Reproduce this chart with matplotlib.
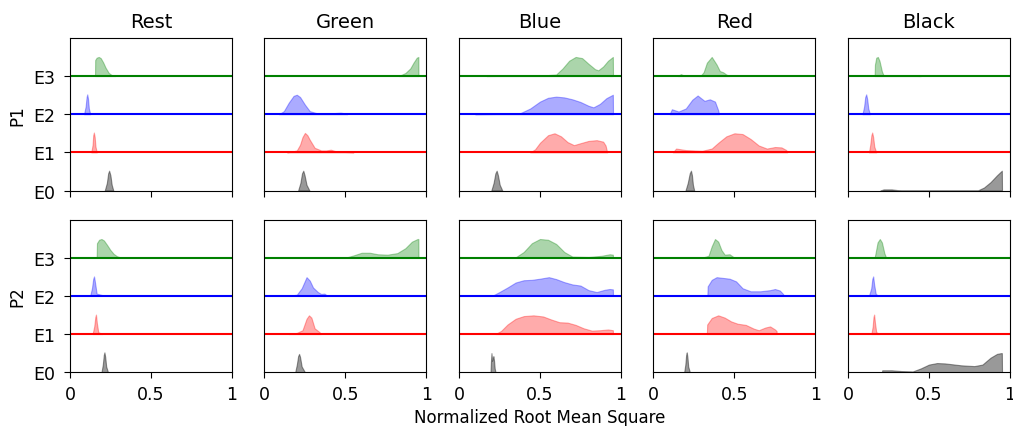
# Ridgelines de NRMS por condición (Rest/Green/Blue/Red/Black), participante y nivel E0-E3

import numpy as np
import matplotlib
matplotlib.use('Agg')
import matplotlib.pyplot as plt

condiciones = ['Rest', 'Green', 'Blue', 'Red', 'Black']
participantes = ['P1', 'P2']
niveles = ['E0', 'E1', 'E2', 'E3']

# perfil típico de un pico estrecho (alturas)
pico = [0, 0.2, 0.45, 0.52, 0.4, 0.15, 0]

# cada lista: [E0, E1, E2, E3], cada curva como (x, densidad)
rest_p1 = [
    ([0.215, 0.228, 0.236, 0.242, 0.25, 0.258, 0.268], pico),
    ([0.132, 0.14, 0.144, 0.148, 0.153, 0.158, 0.166], pico),
    ([0.087, 0.097, 0.103, 0.107, 0.112, 0.117, 0.126], pico),
    ([0.155, 0.156, 0.165, 0.178, 0.19, 0.205, 0.22, 0.24, 0.26, 0.28],
     [0, 0.42, 0.48, 0.5, 0.47, 0.36, 0.22, 0.08, 0.02, 0]),
]
green_p1 = [
    ([0.208, 0.222, 0.232, 0.24, 0.248, 0.26, 0.278], pico),
    ([0.14, 0.17, 0.2, 0.22, 0.235, 0.25, 0.265, 0.28, 0.31, 0.35, 0.38, 0.41, 0.44, 0.5, 0.55],
     [0, 0.02, 0.05, 0.2, 0.4, 0.51, 0.45, 0.33, 0.12, 0.05, 0.05, 0.07, 0.03, 0.01, 0]),
    ([0.09, 0.12, 0.15, 0.18, 0.2, 0.22, 0.25, 0.28, 0.32, 0.4, 0.47, 0.5, 0.51],
     [0, 0.08, 0.3, 0.48, 0.51, 0.45, 0.25, 0.08, 0.03, 0.02, 0.04, 0.02, 0]),
    ([0.83, 0.87, 0.9, 0.92, 0.94, 0.95, 0.951],
     [0, 0.08, 0.2, 0.35, 0.48, 0.5, 0]),
]
blue_p1 = [
    ([0.2, 0.214, 0.225, 0.233, 0.241, 0.252, 0.268], pico),
    ([0.44, 0.47, 0.5, 0.55, 0.59, 0.63, 0.67, 0.71, 0.75, 0.8, 0.85, 0.89, 0.905, 0.915],
     [0, 0.08, 0.25, 0.45, 0.5, 0.42, 0.27, 0.19, 0.24, 0.3, 0.32, 0.28, 0.18, 0]),
    ([0.1, 0.3, 0.38, 0.44, 0.5, 0.55, 0.6, 0.65, 0.7, 0.75, 0.8, 0.83, 0.87, 0.91, 0.95, 0.951],
     [0, 0.01, 0.03, 0.15, 0.33, 0.43, 0.46, 0.44, 0.39, 0.32, 0.22, 0.18, 0.27, 0.42, 0.51, 0]),
    ([0.17, 0.5, 0.6, 0.64, 0.68, 0.72, 0.76, 0.8, 0.84, 0.86, 0.89, 0.92, 0.95, 0.951],
     [0, 0.01, 0.04, 0.2, 0.4, 0.5, 0.47, 0.32, 0.18, 0.15, 0.25, 0.4, 0.5, 0]),
]
red_p1 = [
    ([0.198, 0.212, 0.224, 0.232, 0.238, 0.244, 0.252], pico),
    ([0.12, 0.14, 0.2, 0.3, 0.36, 0.4, 0.45, 0.5, 0.55, 0.6, 0.65, 0.7, 0.75, 0.79, 0.82, 0.825],
     [0, 0.1, 0.06, 0.04, 0.1, 0.25, 0.42, 0.5, 0.48, 0.35, 0.18, 0.1, 0.14, 0.13, 0.06, 0]),
    ([0.1, 0.114, 0.155, 0.2, 0.24, 0.273, 0.3, 0.315, 0.348, 0.38, 0.4, 0.405],
     [0, 0.13, 0.07, 0.15, 0.38, 0.49, 0.4, 0.35, 0.39, 0.33, 0.1, 0]),
    ([0.15, 0.17, 0.19, 0.29, 0.31, 0.33, 0.36, 0.39, 0.41, 0.43, 0.45, 0.47],
     [0, 0.05, 0.01, 0, 0.1, 0.35, 0.5, 0.3, 0.13, 0.1, 0.04, 0]),
]
black_p1 = [
    ([0.2, 0.22, 0.27, 0.33, 0.8, 0.84, 0.88, 0.92, 0.95, 0.951],
     [0, 0.03, 0.03, 0, 0, 0.08, 0.22, 0.4, 0.52, 0]),
    ([0.13, 0.138, 0.145, 0.15, 0.156, 0.163, 0.175], pico),
    ([0.09, 0.1, 0.107, 0.113, 0.119, 0.126, 0.136], pico),
    ([0.165, 0.167, 0.175, 0.185, 0.195, 0.21, 0.22, 0.3, 0.45],
     [0, 0.3, 0.48, 0.5, 0.4, 0.12, 0.02, 0.01, 0]),
]
rest_p2 = [
    ([0.195, 0.203, 0.209, 0.213, 0.218, 0.224, 0.235], pico),
    ([0.14, 0.15, 0.157, 0.161, 0.166, 0.175, 0.2], [0, 0.2, 0.45, 0.51, 0.3, 0.05, 0]),
    ([0.125, 0.136, 0.144, 0.149, 0.155, 0.165, 0.2, 0.21], [0, 0.2, 0.45, 0.51, 0.35, 0.06, 0.02, 0]),
    ([0.165, 0.167, 0.18, 0.195, 0.21, 0.23, 0.25, 0.27, 0.29, 0.31, 0.4],
     [0, 0.38, 0.47, 0.49, 0.45, 0.33, 0.2, 0.1, 0.04, 0.01, 0]),
]
green_p2 = [
    ([0.19, 0.2, 0.208, 0.214, 0.22, 0.23, 0.25], [0, 0.2, 0.42, 0.48, 0.4, 0.15, 0]),
    ([0.15, 0.2, 0.235, 0.26, 0.275, 0.29, 0.31, 0.34, 0.35],
     [0, 0.03, 0.1, 0.4, 0.49, 0.43, 0.15, 0.05, 0]),
    ([0.14, 0.2, 0.23, 0.26, 0.28, 0.3, 0.33, 0.35, 0.37, 0.39],
     [0, 0.03, 0.2, 0.49, 0.4, 0.22, 0.1, 0.05, 0.06, 0]),
    ([0.5, 0.55, 0.6, 0.65, 0.7, 0.76, 0.82, 0.87, 0.91, 0.945, 0.95, 0.951],
     [0, 0.06, 0.13, 0.13, 0.09, 0.08, 0.12, 0.25, 0.42, 0.49, 0.49, 0]),
]
blue_p2 = [
    ([0.195, 0.198, 0.201, 0.205, 0.209, 0.213, 0.217, 0.221, 0.226],
     [0, 0.3, 0.5, 0.3, 0.38, 0.42, 0.3, 0.1, 0]),
    ([0.225, 0.26, 0.3, 0.35, 0.4, 0.46, 0.52, 0.57, 0.62, 0.67, 0.72, 0.77, 0.82, 0.87, 0.92, 0.95, 0.951],
     [0, 0.08, 0.25, 0.4, 0.47, 0.49, 0.46, 0.38, 0.31, 0.3, 0.24, 0.15, 0.09, 0.1, 0.12, 0.1, 0]),
    ([0.205, 0.25, 0.3, 0.35, 0.4, 0.45, 0.5, 0.555, 0.6, 0.65, 0.7, 0.75, 0.8, 0.85, 0.9, 0.93, 0.95, 0.951],
     [0, 0.1, 0.22, 0.35, 0.41, 0.42, 0.45, 0.49, 0.44, 0.36, 0.3, 0.27, 0.15, 0.1, 0.16, 0.18, 0.17, 0]),
    ([0.18, 0.35, 0.4, 0.45, 0.5, 0.55, 0.6, 0.65, 0.7, 0.8, 0.88, 0.93, 0.95, 0.951],
     [0, 0.01, 0.15, 0.38, 0.49, 0.47, 0.36, 0.15, 0.03, 0.02, 0.05, 0.09, 0.08, 0]),
]
red_p2 = [
    ([0.19, 0.197, 0.202, 0.206, 0.21, 0.215, 0.225], pico),
    ([0.33, 0.332, 0.36, 0.4, 0.44, 0.48, 0.52, 0.57, 0.62, 0.65, 0.69, 0.72, 0.75, 0.76, 0.761],
     [0, 0.25, 0.42, 0.49, 0.43, 0.33, 0.27, 0.24, 0.14, 0.1, 0.17, 0.2, 0.12, 0.08, 0]),
    ([0.333, 0.335, 0.36, 0.39, 0.43, 0.47, 0.51, 0.55, 0.6, 0.66, 0.72, 0.75, 0.78, 0.8, 0.805],
     [0, 0.25, 0.42, 0.49, 0.47, 0.45, 0.38, 0.2, 0.12, 0.12, 0.15, 0.18, 0.14, 0.05, 0]),
    ([0.3, 0.34, 0.36, 0.38, 0.4, 0.42, 0.44, 0.47, 0.5],
     [0, 0.05, 0.3, 0.49, 0.42, 0.2, 0.08, 0.09, 0]),
]
black_p2 = [
    ([0.21, 0.212, 0.27, 0.33, 0.4, 0.45, 0.5, 0.55, 0.6, 0.7, 0.78, 0.83, 0.88, 0.92, 0.945, 0.95, 0.951],
     [0, 0.05, 0.05, 0.03, 0.02, 0.1, 0.2, 0.24, 0.23, 0.18, 0.16, 0.2, 0.38, 0.48, 0.5, 0.5, 0]),
    ([0.145, 0.153, 0.158, 0.162, 0.167, 0.175, 0.195], [0, 0.2, 0.45, 0.51, 0.3, 0.05, 0]),
    ([0.13, 0.144, 0.151, 0.156, 0.162, 0.172, 0.19], [0, 0.2, 0.45, 0.51, 0.3, 0.05, 0]),
    ([0.165, 0.172, 0.183, 0.197, 0.21, 0.225, 0.236], [0, 0.15, 0.4, 0.49, 0.4, 0.12, 0]),
]

datos = [
    [rest_p1, green_p1, blue_p1, red_p1, black_p1],
    [rest_p2, green_p2, blue_p2, red_p2, black_p2],
]

colores_relleno = ['black', 'red', 'blue', 'green']
alfas = [0.4, 0.33, 0.33, 0.33]
colores_linea = ['gray', 'r', 'b', 'g']

fig, axes = plt.subplots(2, 5, figsize=(10.13, 4.27), dpi=100)
fig.subplots_adjust(left=0.069, right=0.997, bottom=0.126, top=0.909,
                    wspace=0.2, hspace=0.19)

for fila in range(2):
    for col in range(5):
        ax = axes[fila, col]
        for i, (xs, ys) in enumerate(datos[fila][col]):
            xs = np.array(xs)
            ys = np.array(ys)
            ax.fill_between(xs, i, i + ys, color=colores_relleno[i],
                            alpha=alfas[i], lw=0.8)
            if i > 0:
                ax.axhline(i, color=colores_linea[i], lw=1.5)
        ax.set_xlim(0, 1)
        ax.set_ylim(0, 4)
        ax.set_xticks([0, 0.5, 1])
        ax.tick_params(axis='x', length=4.5, pad=5)
        if fila == 1:
            ax.set_xticklabels(['0', '0.5', '1'], fontsize=12.5)
        else:
            ax.set_xticklabels([])
            ax.set_title(condiciones[col], fontsize=14, pad=8)
        if col == 0:
            ax.set_yticks(range(4))
            ax.set_yticklabels(niveles, fontsize=12.5)
            ax.tick_params(axis='y', length=4.5, pad=6)
            ax.set_ylabel(participantes[fila], fontsize=12, labelpad=5)
        else:
            ax.set_yticks([])

fig.text(0.533, 0.02, 'Normalized Root Mean Square', ha='center', va='center', fontsize=12)

plt.savefig('out.png', dpi=100)
